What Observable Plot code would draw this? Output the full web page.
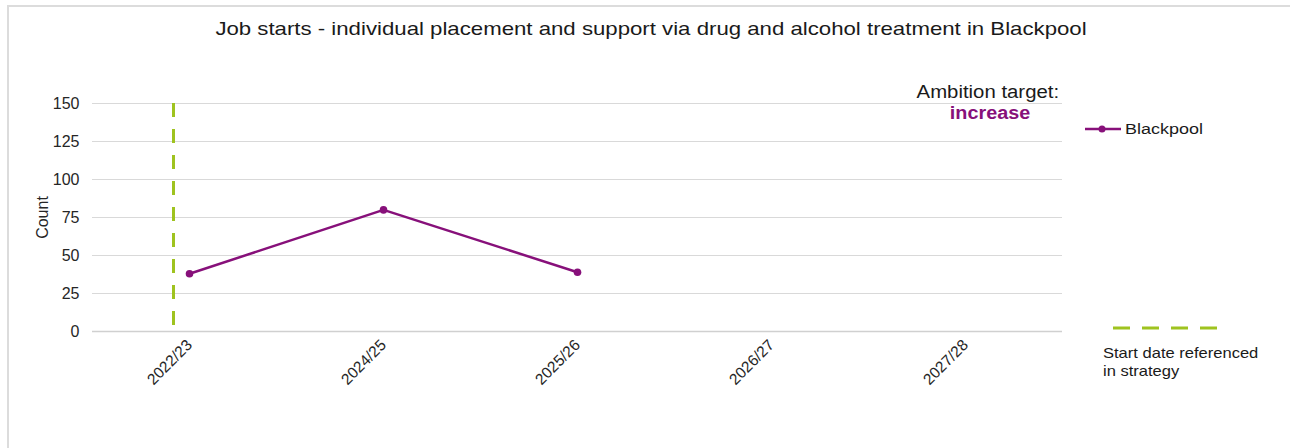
<!DOCTYPE html>
<html>
<head>
<meta charset="utf-8">
<script src="https://cdn.jsdelivr.net/npm/d3@7"></script>
<script src="https://cdn.jsdelivr.net/npm/@observablehq/plot@0.6"></script>
<style>
  html, body { margin: 0; padding: 0; background: #fff; }
  #wrap { position: relative; width: 1290px; height: 448px; overflow: hidden; font-family: "Liberation Sans", Arial, sans-serif; color: #1a1a1a; }
  #frame { position: absolute; left: 7px; top: 5px; width: 1400px; height: 500px; border-left: 2px solid #dcdcdc; border-top: 2px solid #dcdcdc; }
  #title { position: absolute; top: 18px; left: 6px; width: 1290px; text-align: center; font-size: 18.5px; transform: scaleX(1.2); transform-origin: 645px 0; }
  #chart { position: absolute; left: 0; top: 0; }
  .abs { position: absolute; }
</style>
</head>
<body>
<div id="wrap">
  <div id="frame"></div>
  <div id="chart"></div>
  <div id="title">Job starts - individual placement and support via drug and alcohol treatment in Blackpool</div>
  <div class="abs" style="right:231px; top:82px; font-size:18px; text-align:right; transform:scaleX(1.13); transform-origin:100% 0;">Ambition target:</div>
  <div class="abs" style="left:940px; width:100px; top:103px; font-size:18px; font-weight:bold; color:#87107a; text-align:center; transform:scaleX(1.1); transform-origin:50% 0;">increase</div>
  <div class="abs" style="left:1084px; top:119px;">
    <svg width="40" height="20"><line x1="1" y1="10" x2="37" y2="10" stroke="#87107a" stroke-width="2.5"/><circle cx="18" cy="10" r="3.5" fill="#87107a"/></svg>
  </div>
  <div class="abs" style="left:1125px; top:120px; font-size:15.5px; transform:scaleX(1.16); transform-origin:0 0;">Blackpool</div>
  <div class="abs" style="left:1110px; top:320px;">
    <svg width="112" height="16"><line x1="3" y1="8" x2="107" y2="8" stroke="#9fc31f" stroke-width="3" stroke-dasharray="17,12"/></svg>
  </div>
  <div class="abs" style="left:1103px; top:344px; font-size:14.5px; line-height:18px; transform:scaleX(1.14); transform-origin:0 0;">Start date referenced<br>in strategy</div>
</div>
<script>
const years = ["2022/23", "2024/25", "2025/26", "2026/27", "2027/28"];
const blackpool = [38, 80, 39, null, null];
const yTicks = [0, 25, 50, 75, 100, 125, 150];
const startYear = ["2022/23"];

const data = years.map((y, i) => ({year: y, value: blackpool[i]})).filter(d => d.value != null);

const chart = Plot.plot({
  width: 1290,
  height: 448,
  marginTop: 103,
  marginBottom: 117,
  marginLeft: 92,
  marginRight: 228,
  style: {fontFamily: "'Liberation Sans', Arial, sans-serif", fontSize: "15px", color: "#262626", background: "transparent"},
  x: {type: "point", domain: years, padding: 0.5},
  y: {domain: [0, 150]},
  marks: [
    Plot.gridY(yTicks, {stroke: "#d9d9d9", strokeOpacity: 1, strokeWidth: 1}),
    Plot.axisY(yTicks, {tickSize: 0, tickPadding: 13, label: "Count", labelAnchor: "center", labelArrow: "none", labelOffset: 56, fontSize: 16}),
    Plot.axisX(years, {tickSize: 0, tickPadding: 11, tickRotate: -45, label: null, fontSize: 15.5}),
    Plot.ruleY([0], {stroke: "#d0d0d0", strokeWidth: 1.5}),
    Plot.ruleX(startYear, {x: d => d, y1: 150, y2: 0, dx: -16, stroke: "#9fc31f", strokeWidth: 3, strokeDasharray: "14,12"}),
    Plot.line(data, {x: "year", y: "value", stroke: "#87107a", strokeWidth: 2.5}),
    Plot.dot(data, {x: "year", y: "value", fill: "#87107a", r: 3.8})
  ]
});
document.getElementById("chart").appendChild(chart);
</script>
</body>
</html>
